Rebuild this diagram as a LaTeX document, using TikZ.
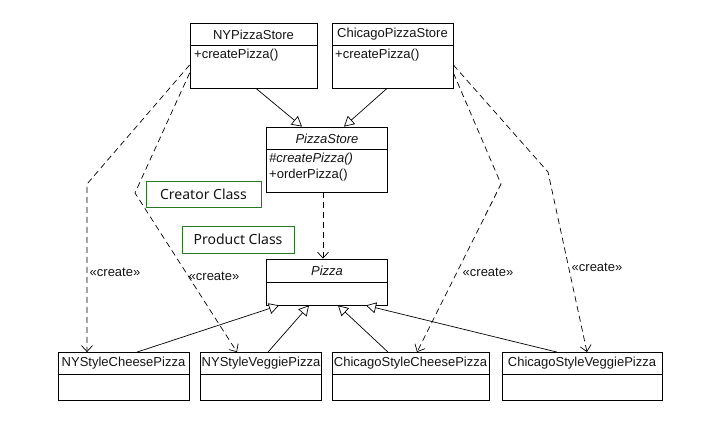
\documentclass[tikz,border=0pt]{standalone}
\usepackage{fontspec}
\setmainfont{Liberation Sans}
\newfontfamily\gfont{Noto Sans}
\usetikzlibrary{arrows.meta}
\definecolor{gbox}{RGB}{40,120,40}
\definecolor{tcol}{RGB}{20,20,20}
\tikzset{
  cls/.style={draw, line width=0.8pt, inner sep=0pt, fill=white},
  title/.style={inner sep=0pt, font=\fontsize{13}{15}\selectfont, text=tcol},
  oper/.style={inner sep=0pt, anchor=west, font=\fontsize{13}{15}\selectfont, text=tcol},
  note/.style={draw=gbox, line width=0.8pt, inner sep=0pt, font=\gfont\fontsize{14}{16}\selectfont, text=tcol},
  lbl/.style={inner sep=0pt, font=\fontsize{13}{15}\selectfont, text=tcol},
  dep/.style={line width=0.7pt, dash pattern=on 6pt off 4pt, -{Straight Barb[length=6pt,width=11pt,line width=0.7pt]}},
  gen/.style={line width=0.7pt, -{Triangle[open,length=10pt,width=11pt,line width=0.7pt,fill=white]}},
  divl/.style={line width=0.8pt}
}
\begin{document}
\begin{tikzpicture}[x=1pt,y=-1pt]
\useasboundingbox[fill=white] (0,0) rectangle (720,430);

% top creator classes
\node[cls, minimum width=127pt, minimum height=65pt] (ny) at (253.5,55.5) {};
\draw[divl] (ny.west |- 0,45) -- (ny.east |- 0,45);
\node[title] (nyt) at (253.5,34.5) {NYPizzaStore};
\node[oper] (nyo) at (194,55.5) {+createPizza()};

\node[cls, minimum width=121pt, minimum height=65pt] (ch) at (392.5,55.5) {};
\draw[divl] (ch.west |- 0,45) -- (ch.east |- 0,45);
\node[title] (cht) at (392.5,34.5) {ChicagoPizzaStore};
\node[oper] (cho) at (335,55.5) {+createPizza()};

% PizzaStore
\node[cls, minimum width=121pt, minimum height=65pt] (ps) at (327,159.5) {};
\draw[divl] (ps.west |- 0,149) -- (ps.east |- 0,149);
\node[title] (pst) at (327,138.5) {\itshape PizzaStore};
\node[oper] (pso1) at (269,159.5) {\itshape\#createPizza()};
\node[oper] (pso2) at (269,175.5) {+orderPizza()};

% notes
\node[note, minimum width=115pt, minimum height=26pt] (cc) at (203.5,194) {Creator Class\hspace{5pt}};
\node[note, minimum width=112pt, minimum height=27pt] (pc) at (238,239.5) {Product Class};

% Pizza
\node[cls, minimum width=121pt, minimum height=46pt] (pz) at (327,282) {};
\draw[divl] (pz.west |- 0,282) -- (pz.east |- 0,282);
\node[title] (pzt) at (327,270.5) {\itshape Pizza};

% products
\node[cls, minimum width=131pt, minimum height=48pt] (nyc) at (123.5,376.5) {};
\draw[divl] (nyc.west |- 0,374) -- (nyc.east |- 0,374);
\node[title] (nyct) at (123.5,363.5) {NYStyleCheesePizza};

\node[cls, minimum width=121pt, minimum height=48pt] (nyv) at (261,376.5) {};
\draw[divl] (nyv.west |- 0,374) -- (nyv.east |- 0,374);
\node[title] (nyvt) at (261,363.5) {NYStyleVeggiePizza};

\node[cls, minimum width=157pt, minimum height=48pt] (chc) at (410.5,376.5) {};
\draw[divl] (chc.west |- 0,374) -- (chc.east |- 0,374);
\node[title] (chct) at (410.5,363.5) {ChicagoStyleCheesePizza};

\node[cls, minimum width=160pt, minimum height=48pt] (chv) at (582,376.5) {};
\draw[divl] (chv.west |- 0,374) -- (chv.east |- 0,374);
\node[title] (chvt) at (582,363.5) {ChicagoStyleVeggiePizza};

% generalisation to PizzaStore
\draw[gen] (ny.south -| 256,0) -- (ps.north -| 302,0);
\draw[gen] (ch.south -| 387,0) -- (ps.north -| 344,0);

% PizzaStore uses Pizza
\draw[dep] (ps.south -| 323,0) -- (pz.north -| 323,0);

% generalisation to Pizza
\draw[gen] (nyc.north -| 137,0) -- (pz.south -| 279,0);
\draw[gen] (nyv.north -| 268,0) -- (pz.south -| 309,0);
\draw[gen] (chc.north -| 388,0) -- (pz.south -| 338,0);
\draw[gen] (chv.north -| 557,0) -- (pz.south -| 366,0);

% create dependencies
\coordinate (b1) at (87,184);
\coordinate (b2) at (135,193);
\coordinate (b3) at (501,184);
\coordinate (b4) at (548,172);
\draw[dep] (ny.west |- 0,65) -- (b1) -- (b1 |- nyc.north);
\draw[dep] (ny.west |- 0,73) -- (b2) -- (nyv.north -| 237,0);
\draw[dep] (ch.east |- 0,73) -- (b3) -- (chc.north -| 417,0);
\draw[dep] (ch.east |- 0,65) -- (b4) -- (chv.north -| 587,0);

\node[lbl] (l1) at (115,272) {«create»};
\node[lbl] (l2) at (214,276) {«create»};
\node[lbl] (l3) at (488,272) {«create»};
\node[lbl] (l4) at (597,267.5) {«create»};
\end{tikzpicture}
\end{document}
